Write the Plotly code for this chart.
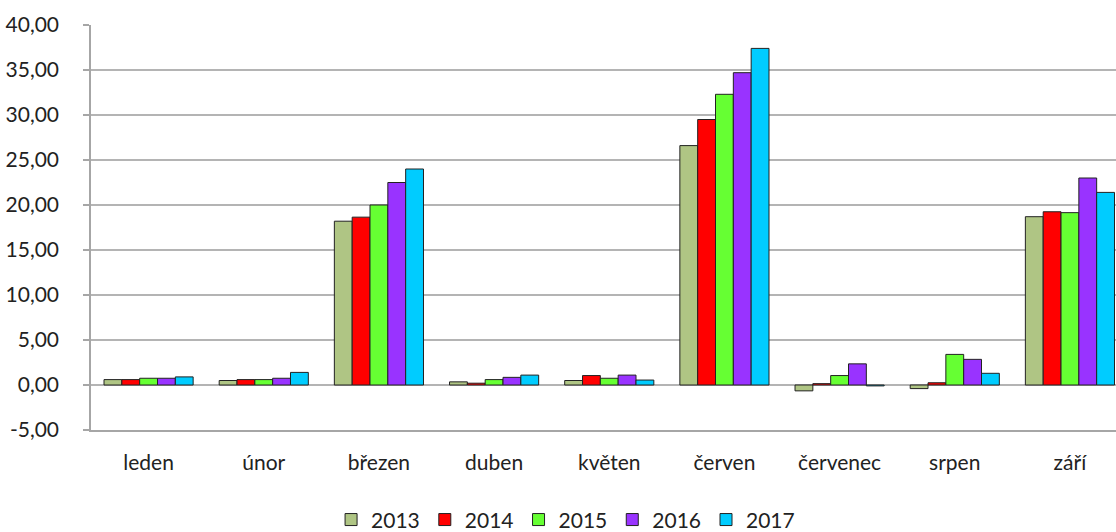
import plotly.graph_objects as go

months = ["leden", "únor", "březen", "duben", "květen", "červen", "červenec", "srpen", "září"]
years = ["2013", "2014", "2015", "2016", "2017"]

v2013 = [0.6, 0.5, 18.2, 0.35, 0.5, 26.6, -0.65, -0.4, 18.7]
v2014 = [0.6, 0.6, 18.65, 0.2, 1.05, 29.5, 0.15, 0.25, 19.25]
v2015 = [0.75, 0.6, 20.0, 0.6, 0.75, 32.3, 1.05, 3.4, 19.15]
v2016 = [0.75, 0.75, 22.5, 0.85, 1.1, 34.7, 2.35, 2.85, 23.0]
v2017 = [0.9, 1.4, 24.0, 1.1, 0.55, 37.4, -0.1, 1.3, 21.4]

series = [v2013, v2014, v2015, v2016, v2017]
colors = ["#AFC584", "#FF0000", "#66FF33", "#9933FF", "#00CCFF"]

tick_vals = [-5, 0, 5, 10, 15, 20, 25, 30, 35, 40]
tick_text = [("%.2f" % v).replace(".", ",") for v in tick_vals]

fig = go.Figure()
for name, vals, col in zip(years, series, colors):
    fig.add_trace(go.Bar(
        x=months, y=vals, name=name,
        marker=dict(color=col, line=dict(color="#222222", width=1)),
    ))

font_family = "Lato, 'Open Sans', sans-serif"
fig.update_layout(
    width=1116, height=532,
    barmode="group", bargap=0.226, bargroupgap=0,
    plot_bgcolor="white", paper_bgcolor="white",
    margin=dict(l=91, r=0, t=25, b=102, autoexpand=False),
    font=dict(family=font_family, size=21, color="#222222"),
    showlegend=True,
    legend=dict(orientation="h", x=0.463, xanchor="center", y=-0.222, yanchor="middle",
                font=dict(size=21), itemwidth=30, traceorder="normal"),
    xaxis=dict(
        range=[-0.5, 8.4], showgrid=False, showline=True, linecolor="#A6A6A6", linewidth=1.5,
        ticks="", tickfont=dict(size=21), ticklabelstandoff=13, automargin=False,
    ),
    yaxis=dict(
        range=[-5, 40], tickvals=tick_vals, ticktext=tick_text,
        showgrid=True, gridcolor="#B4B4B4", gridwidth=1.5,
        zeroline=False, showline=True, linecolor="#A6A6A6", linewidth=1.5,
        ticks="outside", ticklen=6, tickcolor="#A6A6A6", tickwidth=1.5,
        tickfont=dict(size=21), ticklabelstandoff=20, automargin=False,
    ),
)

fig.write_html("out.html", config={"displayModeBar": False},
               post_script="document.body.style.margin='0';document.body.style.overflow='hidden';")
